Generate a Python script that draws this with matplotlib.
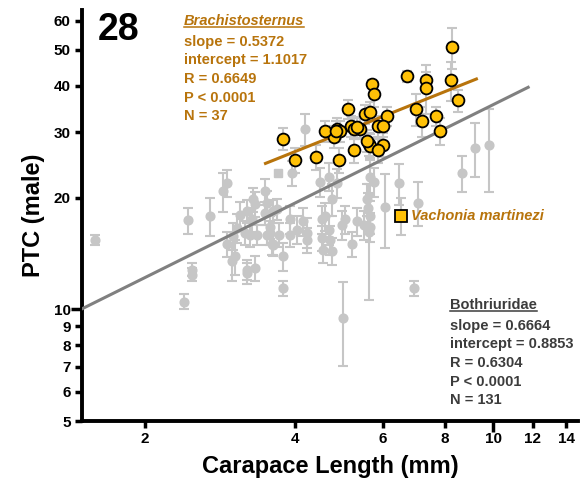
import numpy as np
import matplotlib
matplotlib.use('Agg')
import matplotlib.pyplot as plt
from matplotlib.lines import Line2D

plt.rcParams['font.family'] = ['Liberation Sans', 'DejaVu Sans']

# Bothriuridae (grey) - carapace length (mm), PTC, error half-length
grey_x = [1.59, 2.40, 2.49, 2.49, 2.44, 2.70, 2.92, 2.87, 3.48, 3.30,
          3.33, 3.10, 3.20, 3.28, 3.51, 3.48, 3.68, 3.06, 3.18, 3.25,
          3.01, 3.56, 3.51, 3.35, 2.92, 3.03, 2.99, 3.59, 3.20, 3.20,
          3.33, 3.61, 3.79, 3.79, 5.00, 5.63, 3.94, 4.49, 4.67, 4.85,
          4.74, 5.66, 5.75, 5.57, 5.61, 5.66, 3.62, 3.91, 4.16, 4.22,
          4.03, 4.53, 4.60, 4.67, 4.71, 4.97, 5.04, 5.32, 5.49, 5.66,
          3.91, 3.71, 3.56, 4.22, 4.53, 3.62, 4.56, 4.74, 4.19, 8.66,
          9.17, 9.80, 6.46, 7.07, 6.05, 6.92, 5.21]
grey_y = [15.4, 10.5, 12.8, 12.4, 17.4, 17.9, 21.9, 20.8, 20.8, 19.8,
          19.2, 18.0, 18.4, 17.5, 19.4, 18.2, 18.6, 16.6, 16.1, 15.9,
          15.8, 16.1, 15.9, 15.9, 15.0, 13.9, 13.5, 15.0, 12.8, 12.5,
          12.9, 14.9, 13.9, 11.4, 9.46, 16.2, 23.3, 22.1, 22.8, 21.9,
          19.8, 22.8, 22.1, 19.8, 18.8, 17.8, 18.4, 17.5, 17.3, 16.1,
          16.4, 17.5, 17.8, 16.4, 15.4, 16.9, 17.5, 17.3, 16.9, 16.7,
          15.9, 15.9, 16.7, 15.4, 15.6, 15.0, 14.5, 14.35, 30.6, 23.3,
          27.3, 27.7, 21.9, 19.4, 18.9, 11.4, 15.0]
grey_err = [0.5, 0.5, 0.5, 0.5, 1.4, 2.1, 1.8, 2.5, 1.7, 1.5,
            1.5, 1.5, 1.3, 1.3, 1.4, 1.3, 1.2, 1.5, 1.2, 1.2,
            1.3, 1.2, 1.0, 1.0, 1.2, 1.5, 1.6, 1.0, 0.8, 0.8,
            1.0, 1.0, 1.2, 0.5, 2.4, 5.6, 1.8, 2.0, 2.0, 2.0,
            2.0, 2.5, 2.0, 2.0, 1.8, 1.8, 1.3, 1.5, 1.5, 1.5,
            1.4, 1.5, 1.5, 1.5, 1.4, 1.5, 1.5, 1.5, 1.5, 1.5,
            1.2, 1.2, 1.2, 1.2, 1.2, 1.0, 1.2, 1.2, 3.0, 2.6,
            4.5, 7.0, 2.8, 2.6, 4.3, 0.5, 1.2]

# grey square (other Vachonia)
sq_grey_x = [3.69]
sq_grey_y = [23.3]

# Brachistosternus (yellow)
br_x = [8.26, 6.71, 7.34, 7.34, 8.22, 8.51, 5.70, 5.75, 5.10, 5.53,
        5.66, 6.13, 7.00, 7.67, 7.20, 7.80, 5.87, 6.00, 5.40, 5.18,
        5.25, 4.85, 4.93, 4.79, 4.60, 5.63, 5.66, 6.00, 5.87, 5.26,
        4.90, 4.40, 4.00, 3.78, 4.84, 5.58, 5.33]
br_y = [50.8, 42.5, 41.5, 39.6, 41.5, 36.6, 40.6, 38.1, 34.6, 33.6,
        34.1, 33.2, 34.6, 33.2, 32.2, 30.2, 31.2, 31.2, 30.7, 31.2,
        30.7, 30.7, 30.2, 29.2, 30.2, 27.9, 27.6, 27.8, 26.8, 26.8,
        25.3, 25.8, 25.3, 28.8, 30.2, 28.5, 31.0]
br_err = [6.5, 1.5, 2.0, 6.0, 5.0, 2.5, 1.0, 3.0, 2.0, 2.0,
          2.0, 2.0, 3.5, 2.0, 3.0, 2.5, 2.0, 2.0, 2.0, 2.0,
          2.0, 2.0, 2.0, 2.0, 2.0, 2.0, 2.0, 2.0, 2.0, 2.0,
          2.0, 2.0, 2.0, 2.0, 2.0, 2.0, 2.0]

# Vachonia martinezi
vm_x = [6.52]
vm_y = [17.9]
vm_err = [2.0]

# regression fits (log10 PTC = intercept + slope * log10 CL)
both_slope, both_int = 0.6664, 0.8853
both_range = [1.494, 11.75]
br_slope, br_int = 0.5372, 1.1017
br_range = [3.49, 9.25]

xticks = [2, 4, 6, 8, 10, 12, 14]
yticks = [5, 6, 7, 8, 9, 10, 20, 30, 40, 50, 60]

grey = '#c6c6c6'
orange = '#b8740c'
dark = '#3c3c3c'

fig = plt.figure(figsize=(5.81, 4.83), dpi=100)
ax = fig.add_axes([0.141, 0.128, 0.854, 0.851])
ax.set_xscale('log')
ax.set_yscale('log')

ax.errorbar(grey_x, grey_y, yerr=grey_err, fmt='o', color=grey, ms=6.3,
            elinewidth=1.5, capsize=3.5, capthick=1.5, zorder=2)
ax.errorbar(br_x, br_y, yerr=br_err, fmt='none', ecolor=grey,
            elinewidth=1.5, capsize=3.5, capthick=1.5, zorder=2)
ax.errorbar(vm_x, vm_y, yerr=vm_err, fmt='none', ecolor=grey,
            elinewidth=1.5, capsize=3.5, capthick=1.5, zorder=2)
ax.plot(sq_grey_x, sq_grey_y, 's', color=grey, ms=6, zorder=2)

lx = np.array(both_range)
ax.plot(lx, 10 ** (both_int + both_slope * np.log10(lx)), color='#808080', lw=2.2, zorder=3)
bx = np.array(br_range)
ax.plot(bx, 10 ** (br_int + br_slope * np.log10(bx)), color=orange, lw=2.2, zorder=3)

ax.plot(br_x, br_y, 'o', mfc='#ffc107', mec='black', mew=1.3, ms=8.5, zorder=4)
ax.plot(vm_x, vm_y, 's', mfc='#ffc107', mec='black', mew=1.3, ms=8, zorder=4)

ax.set_xlim(1.494, 14.8)
ax.set_ylim(5, 64)
ax.minorticks_off()
ax.set_xticks(xticks)
ax.set_xticklabels([str(t) for t in xticks])
ax.set_yticks(yticks)
ax.set_yticklabels([str(t) for t in yticks])
ax.tick_params(axis='both', which='major', direction='out', length=5, width=2.5,
               labelsize=11, pad=3)
for lab in ax.get_xticklabels() + ax.get_yticklabels():
    lab.set_fontweight('bold')
# the decade tick is drawn a bit longer
ax.xaxis.get_major_ticks()[4].tick1line.set_markersize(8)
ax.yaxis.get_major_ticks()[5].tick1line.set_markersize(8)

for s in ['top', 'right']:
    ax.spines[s].set_visible(False)
for s in ['left', 'bottom']:
    ax.spines[s].set_linewidth(2.8)

ax.set_xlabel('Carapace Length (mm)', fontsize=17, fontweight='bold', labelpad=6)
ax.set_ylabel('PTC (male)', fontsize=17, fontweight='bold', labelpad=6)

fig.text(0.168, 0.975, '28', fontsize=27, fontweight='bold', va='top', ha='left')

t1 = fig.text(0.317, 0.972, 'Brachistosternus', fontsize=10.5, fontweight='bold',
              style='italic', color=orange, va='top', ha='left')
fig.text(0.317, 0.928, 'slope = 0.5372\nintercept = 1.1017\nR = 0.6649\nP < 0.0001\nN = 37',
         fontsize=10.5, fontweight='bold', color=orange, va='top', ha='left', linespacing=1.42)

t2 = fig.text(0.775, 0.383, 'Bothriuridae', fontsize=10.5, fontweight='bold',
              color=dark, va='top', ha='left')
fig.text(0.775, 0.340, 'slope = 0.6664\nintercept = 0.8853\nR = 0.6304\nP < 0.0001\nN = 131',
         fontsize=10.5, fontweight='bold', color=dark, va='top', ha='left', linespacing=1.42)

ax.text(6.85, 17.9, 'Vachonia martinezi', fontsize=10.5, style='italic',
        color=orange, va='center', ha='left', fontweight='bold')

# underline the group titles
fig.canvas.draw()
r = fig.canvas.get_renderer()
for t, c in [(t1, orange), (t2, dark)]:
    bb = t.get_window_extent(renderer=r).transformed(fig.transFigure.inverted())
    fig.add_artist(Line2D([bb.x0, bb.x1], [bb.y0 + 0.002, bb.y0 + 0.002], color=c, lw=1.1,
                          transform=fig.transFigure))

fig.savefig('out.png', dpi=100)
